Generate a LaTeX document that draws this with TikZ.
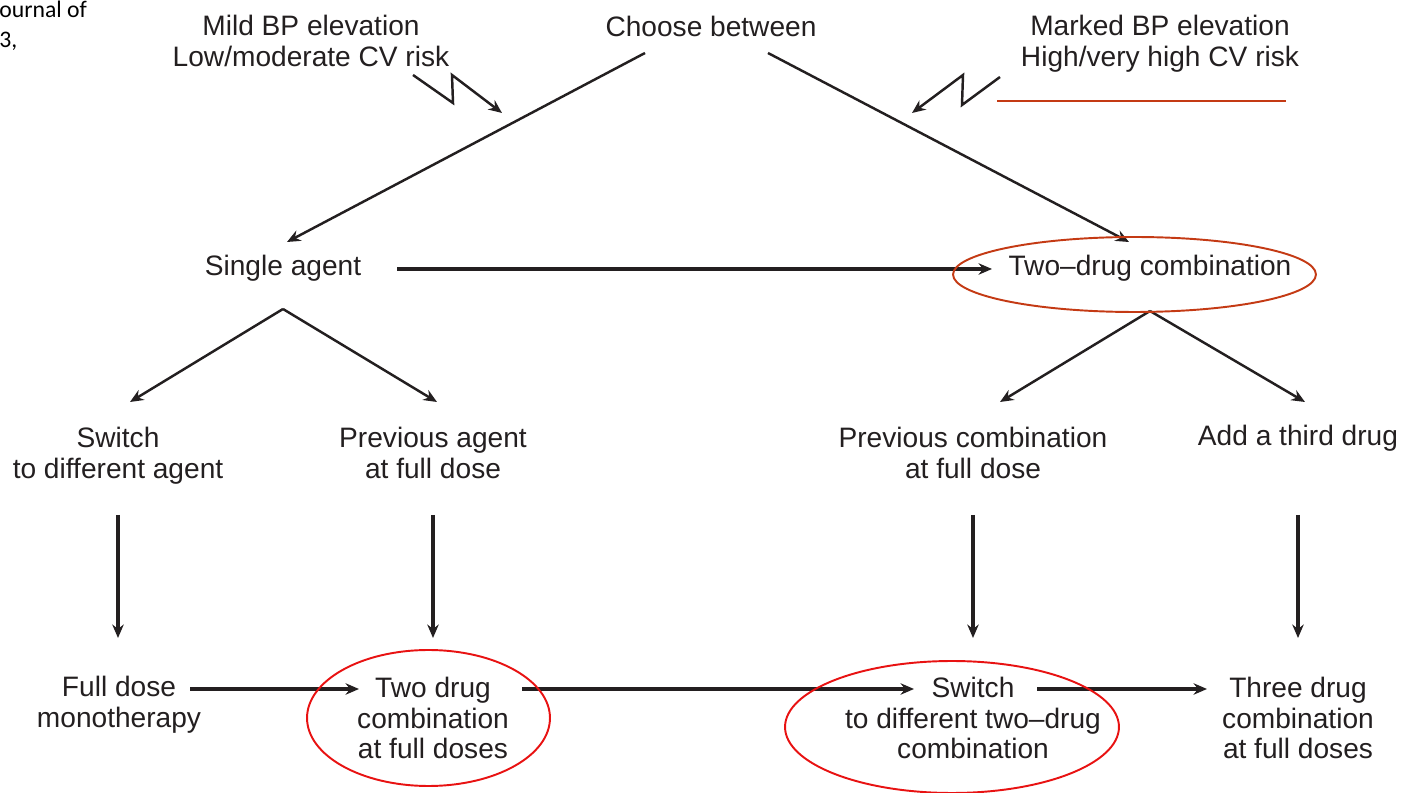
\documentclass[tikz,border=0pt]{standalone}
\usepackage{fontspec}
\setmainfont{Liberation Sans}
\newfontfamily\calfont{Carlito}
\usetikzlibrary{arrows.meta}

\definecolor{ink}{RGB}{35,31,32}
\definecolor{ovalred}{RGB}{232,18,18}
\definecolor{rust}{RGB}{196,58,20}

\tikzset{
    lbl/.style={font=\fontsize{16}{17.6}\selectfont, align=center, inner sep=0pt, text=ink},
    arr/.style={-{Stealth[length=2.7mm, width=2.3mm, inset=0.9mm]}, line width=1.4pt, draw=ink},
    harr/.style={arr, line width=1.9pt},
    varr/.style={arr, line width=2.8pt},
    oval/.style={draw=ovalred, line width=1.1pt},
}

\begin{document}
\begin{tikzpicture}[x=0.02cm, y=-0.02cm]
            \clip (0,0) rectangle (1404,793);

            % clipped caption in the corner
            \node[font=\calfont\fontsize{13.5}{16}\selectfont, anchor=base west, inner sep=0pt] (jr) at (-1,17.5) {ournal of};
            \node[font=\calfont\fontsize{13.5}{16}\selectfont, anchor=base west, inner sep=0pt] (yr) at (-1,48) {3,};

            % top row
            \node[lbl] (mild) at (311,41) {Mild BP elevation\\Low/moderate CV risk};
            \node[lbl] (choose) at (711,26) {Choose between};
            \node[lbl] (marked) at (1160,44) {Marked BP elevation\\High/very high CV risk};

            % second row
            \node[lbl] (single) at (283,268) {Single agent};
            \node[lbl] (two) at (1150,268) {Two–drug combination};

            % third row
            \node[lbl] (switch) at (118,455.5) {Switch\\to different agent};
            \node[lbl] (prevag) at (433,453) {Previous agent\\at full dose};
            \node[lbl] (prevcomb) at (973,453) {Previous combination\\at full dose};
            \node[lbl] (third) at (1298,438) {Add a third drug};

            % bottom row
            \node[lbl] (fullmono) at (119,705) {Full dose\\monotherapy};
            \node[lbl] (twofull) at (433,718) {Two drug\\combination\\at full doses};
            \node[lbl] (switchtwo) at (973,718) {Switch\\to different two–drug\\combination};
            \node[lbl] (threefull) at (1298,718) {Three drug\\combination\\at full doses};

            % connector ends
            \coordinate (chL) at (645,53);  \coordinate (saT) at (287,242);
            \coordinate (chR) at (768,53);  \coordinate (tdT) at (1129,242);
            \coordinate (saB) at (283,309); \coordinate (swT) at (130,402); \coordinate (paT) at (437,402);
            \coordinate (tdB) at (1150,311); \coordinate (pcT) at (1000,402); \coordinate (adT) at (1305,402);
            \coordinate (saR) at (397,269); \coordinate (tdL) at (992,269);
            \foreach \n/\x in {a/118, b/433, c/973, d/1298} {
                \coordinate (v\n1) at (\x,515);
                \coordinate (v\n2) at (\x,638);
            }
            \coordinate (fmR) at (190,689); \coordinate (tfL) at (359,689);
            \coordinate (tfR) at (522,689); \coordinate (stL) at (914,689);
            \coordinate (stR) at (1037,689); \coordinate (thL) at (1207,689);

            % zig-zag arrows
            \draw[arr, line join=miter] (413,75) -- (453,103) -- (452,75) -- (502,113);
            \draw[arr, line join=miter] (1000,77) -- (962,105) -- (963,75) -- (912,113);
            \draw[draw=rust, line width=0.9pt] (997,101) -- (1286,101);

            % diagonals
            \draw[arr] (chL) -- (saT);
            \draw[arr] (chR) -- (tdT);
            \draw[arr] (saB) -- (swT);
            \draw[arr] (saB) -- (paT);
            \draw[arr] (tdB) -- (pcT);
            \draw[arr] (tdB) -- (adT);

            % horizontals and verticals
            \draw[harr] (saR) -- (tdL);
            \foreach \n in {a,b,c,d} {
                \draw[varr] (v\n1) -- (v\n2);
            }
            \draw[harr] (fmR) -- (tfL);
            \draw[harr] (tfR) -- (stL);
            \draw[harr] (stR) -- (thL);

            % highlight ovals
            \draw[draw=rust, line width=1.1pt] (1134.5,274.5) ellipse (3.63cm and 0.75cm);
            \draw[oval] (428.5,718) ellipse (2.43cm and 1.36cm);
            \draw[oval] (952,727) ellipse (3.34cm and 1.32cm);
\end{tikzpicture}
\end{document}
